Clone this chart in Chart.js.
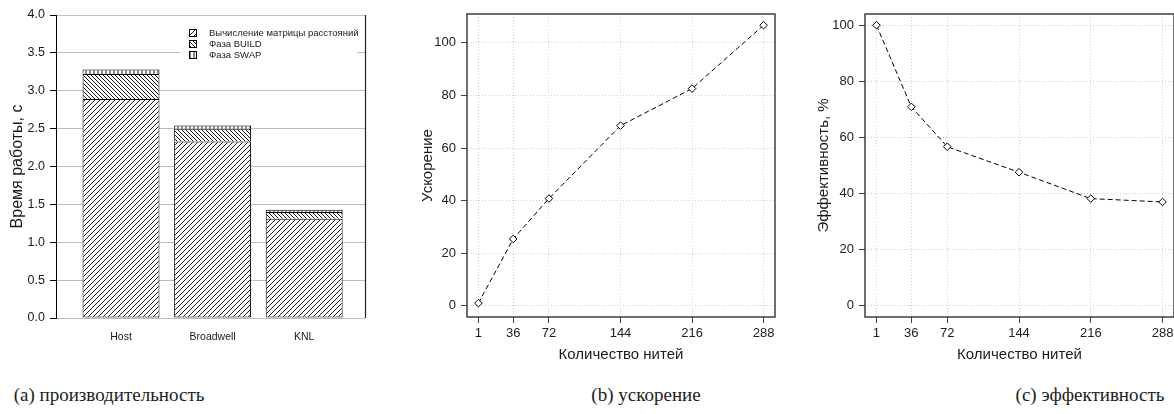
<!DOCTYPE html>
<html><head><meta charset="utf-8">
<script src="https://cdn.jsdelivr.net/npm/chart.js@4"></script>
<style>
html,body{margin:0;padding:0;background:#fff;overflow:hidden;width:1174px;height:414px;position:relative}
.c{position:absolute;top:0}
.cap{position:absolute;top:384px;font-family:"Liberation Serif","DejaVu Serif",serif;font-size:19px;color:#222;transform:translateX(-50%);white-space:nowrap}
</style></head><body>
<div class="c" style="left:0px"><canvas id="ca" width="380" height="370"></canvas></div>
<div class="c" style="left:400px"><canvas id="cb" width="380" height="370"></canvas></div>
<div class="c" style="left:790px"><canvas id="cc" width="390" height="370"></canvas></div>
<div class="cap" style="left:109px">(a) производительность</div>
<div class="cap" style="left:646px">(b) ускорение</div>
<div class="cap" style="left:1090px">(c) эффективность</div>
<script>
// ---- data ----
const platforms = ['Host', 'Broadwell', 'KNL'];
const seriesNames = ['Вычисление матрицы расстояний', 'Фаза BUILD', 'Фаза SWAP'];
const distTime = [2.89, 2.33, 1.31];
const buildTime = [0.33, 0.17, 0.09];
const swapTime = [0.06, 0.04, 0.03];
const timeTicks = [0, 0.5, 1.0, 1.5, 2.0, 2.5, 3.0, 3.5, 4.0];

const threads = [1, 36, 72, 144, 216, 288];
const speedup = [1, 25.4, 40.8, 68.5, 82.6, 106.7];
const efficiency = [100, 70.9, 56.7, 47.6, 38.2, 37.0];
const speedTicks = [0, 20, 40, 60, 80, 100];
const effTicks = [0, 20, 40, 60, 80, 100];

Chart.defaults.font.family = '"Liberation Sans", Arial, sans-serif';
Chart.defaults.color = '#1a1a1a';

function hatch(ctx, type, size) {
  const c = document.createElement('canvas');
  c.width = size; c.height = size;
  const g = c.getContext('2d');
  g.fillStyle = '#fff'; g.fillRect(0, 0, size, size);
  g.strokeStyle = '#000'; g.lineWidth = 0.9;
  g.beginPath();
  if (type === '/') {
    g.moveTo(-1, size + 1); g.lineTo(size + 1, -1);
    g.moveTo(-1, 1); g.lineTo(1, -1);
    g.moveTo(size - 1, size + 1); g.lineTo(size + 1, size - 1);
  } else if (type === '\\') {
    g.moveTo(-1, -1); g.lineTo(size + 1, size + 1);
    g.moveTo(size - 1, -1); g.lineTo(size + 1, 1);
    g.moveTo(-1, size - 1); g.lineTo(1, size + 1);
  } else {
    g.moveTo(size / 2, 0); g.lineTo(size / 2, size);
  }
  g.stroke();
  return ctx.createPattern(c, 'repeat');
}

const ctxA = document.getElementById('ca').getContext('2d');
const pats = [hatch(ctxA, '/', 5), hatch(ctxA, '\\', 4), hatch(ctxA, '|', 4)];
const valuesA = [distTime, buildTime, swapTime];

const legendA = {
  id: 'legendA',
  afterDraw(chart) {
    const g = chart.ctx;
    g.save();
    g.fillStyle = '#fff';
    g.fillRect(180, 25, 177, 38);
    g.font = '9.5px "Liberation Sans", Arial, sans-serif';
    g.textBaseline = 'middle';
    chart.data.datasets.forEach((ds, i) => {
      const y = 33 + 11 * i;
      g.fillStyle = ds.backgroundColor;
      g.fillRect(189.5, y - 3.5, 7, 7);
      g.strokeStyle = '#000'; g.lineWidth = 1;
      g.strokeRect(189.5, y - 3.5, 7, 7);
      g.fillStyle = '#1a1a1a';
      g.fillText(ds.label, 209, y + 0.5);
    });
    g.restore();
  }
};
const rightBorder = {
  id: 'rightBorder',
  afterDraw(chart) {
    const {right, top, bottom} = chart.chartArea;
    const g = chart.ctx;
    g.save(); g.strokeStyle = '#222'; g.lineWidth = 1.2;
    g.beginPath(); g.moveTo(right + 0.5, top); g.lineTo(right + 0.5, bottom); g.stroke();
    g.restore();
  }
};
const boxPlugin = {
  id: 'box',
  afterDraw(chart) {
    const {left, top, right, bottom} = chart.chartArea;
    const g = chart.ctx;
    g.save(); g.strokeStyle = '#333'; g.lineWidth = 1.4;
    g.strokeRect(left, top, right - left, bottom - top);
    g.restore();
  }
};

new Chart(ctxA, {
  type: 'bar',
  data: {
    datasets: valuesA.map((vals, k) => ({
      label: seriesNames[k],
      data: vals.map((v, i) => ({x: i + 1, y: v})),
      stack: 'total',
      backgroundColor: pats[k],
      borderColor: '#000',
      borderWidth: k === 0 ? 1 : {top: 1, left: 1, right: 1, bottom: 0},
      borderSkipped: false,
      barPercentage: 0.84,
      categoryPercentage: 1
    }))
  },
  options: {
    responsive: false, animation: false, events: [],
    layout: {padding: {top: 15, right: 15, left: 0, bottom: 0}},
    plugins: {legend: {display: false}, tooltip: {enabled: false}},
    scales: {
      x: {
        type: 'linear', min: 0.29, max: 3.664, offset: false,
        afterBuildTicks: s => { s.ticks = platforms.map((p, i) => ({value: i + 1})); },
        afterFit: s => { s.height = 52; },
        ticks: {callback: v => platforms[v - 1], font: {size: 10.5}, padding: 13, maxRotation: 0, autoSkip: false},
        grid: {display: false, drawTicks: false, offset: false},
        border: {display: false}
      },
      y: {
        stacked: true, min: 0, max: 4,
        afterBuildTicks: s => { s.ticks = timeTicks.map(v => ({value: v})); },
        afterFit: s => { s.width = 56; },
        ticks: {callback: v => v.toFixed(1), font: {size: 12.5}, padding: 5},
        grid: {color: c => (c.tick && c.tick.value === 4 ? '#c4c4c4' : '#bdbdbd'), tickColor: '#000', tickLength: 6, lineWidth: 1},
        border: {color: '#000', width: 1},
        title: {display: true, text: 'Время работы, с', font: {size: 16}, padding: {top: 8, bottom: 0}}
      }
    }
  },
  plugins: [rightBorder, legendA]
});

function lineChart(id, yVals, yTicks, yMin, yMax, yTitle, yWidth, padRight, titlePad) {
  return new Chart(document.getElementById(id), {
    type: 'scatter',
    data: {
      datasets: [{
        data: threads.map((t, i) => ({x: t, y: yVals[i]})),
        showLine: true,
        borderColor: '#000', borderWidth: 1, borderDash: [5, 3],
        pointStyle: 'rectRot', pointRadius: 3.8, pointBorderWidth: 1,
        pointBackgroundColor: '#fff', pointBorderColor: '#000',
        tension: 0, clip: false
      }]
    },
    options: {
      responsive: false, animation: false, events: [],
      layout: {padding: {top: 14, right: padRight, left: 0, bottom: 0}},
      plugins: {legend: {display: false}, tooltip: {enabled: false}},
      scales: {
        x: {
          type: 'linear', min: -10.48, max: 299.48,
          afterBuildTicks: s => { s.ticks = threads.map(v => ({value: v})); },
          afterFit: s => { s.height = 53; },
          ticks: {font: {size: 13}, padding: 3, maxRotation: 0, autoSkip: false, color: '#222'},
          grid: {color: '#cfcfcf', lineWidth: 1, tickColor: '#444', tickLength: 6, tickBorderDash: []},
          border: {display: false, dash: [1, 2]},
          title: {display: true, text: 'Количество нитей', font: {size: 15}, padding: {top: 0, bottom: 6}, color: '#1a1a1a'}
        },
        y: {
          min: yMin, max: yMax,
          afterBuildTicks: s => { s.ticks = yTicks.map(v => ({value: v})); },
          afterFit: s => { s.width = yWidth; },
          ticks: {font: {size: 13}, padding: 5, color: '#222'},
          grid: {color: '#cfcfcf', lineWidth: 1, tickColor: '#444', tickLength: 6, tickBorderDash: []},
          border: {display: false, dash: [1, 2]},
          title: {display: true, text: yTitle, font: {size: 15}, padding: {top: titlePad, bottom: 0}, color: '#1a1a1a'}
        }
      }
    },
    plugins: [boxPlugin]
  });
}

lineChart('cb', speedup, speedTicks, -4.27, 110.97, 'Ускорение', 67, 5, 19);
lineChart('cc', efficiency, effTicks, -4, 104, 'Эффективность, %', 75, 6, 25);
</script>
</body></html>
